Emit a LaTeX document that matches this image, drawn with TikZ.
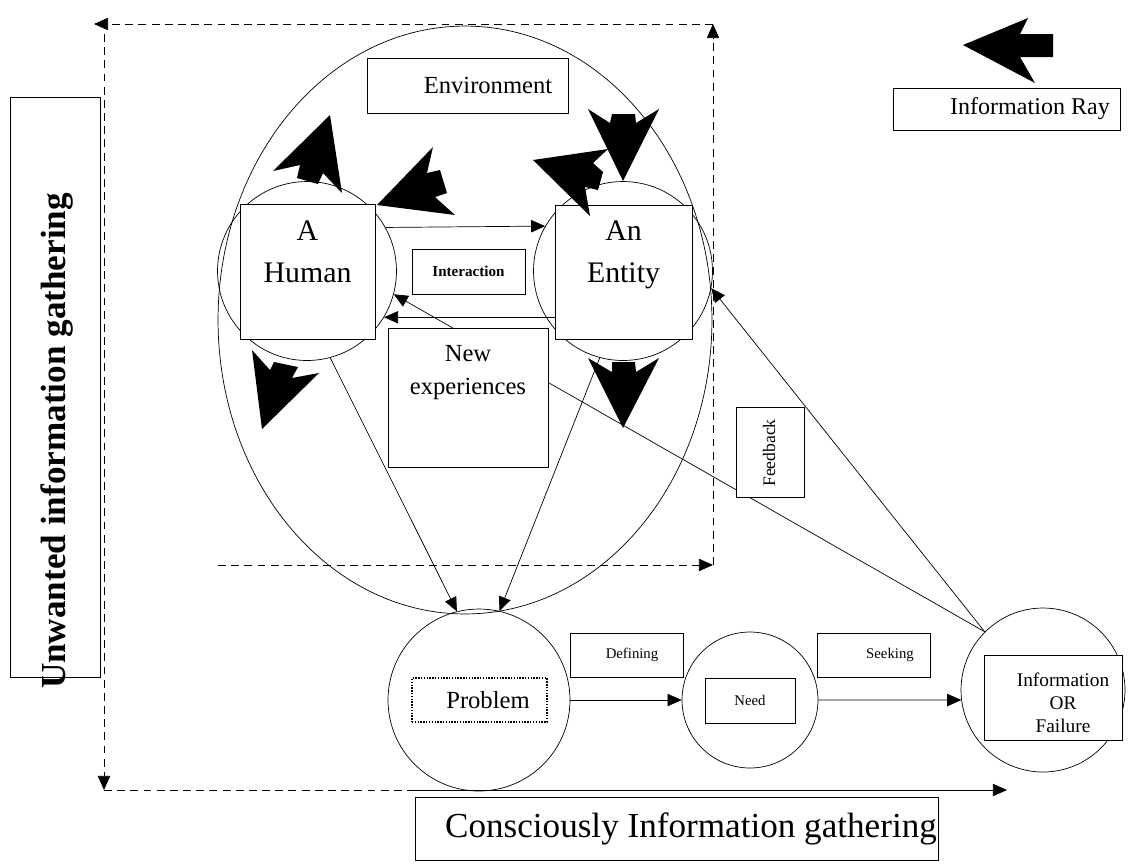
\documentclass[tikz,border=0pt]{standalone}
\usepackage{fontspec}
\setmainfont{Liberation Serif}
\usetikzlibrary{arrows.meta,shapes.geometric}
\pgfdeclarelayer{back}\pgfdeclarelayer{mid}\pgfdeclarelayer{front}
\pgfsetlayers{back,mid,main,front}
\begin{document}
\begin{tikzpicture}[x=0.02cm,y=-0.02cm,line width=1pt,
  box/.style={draw,fill=white,inner sep=0pt},
  circ/.style={draw,circle,inner sep=0pt},
  arr/.style={-{Triangle[length=8pt,width=7pt]}},
  dsh/.style={dash pattern=on 4.5pt off 3pt},
  ray/.style={fill=black},
  fa/.style={font=\fontsize{14}{17}\selectfont},
  fb/.style={font=\fontsize{17}{24}\selectfont},
  fc/.style={font=\fontsize{8.4}{10}\selectfont}]
\useasboundingbox (0,0) rectangle (1136,867);

\begin{pgfonlayer}{back}
\node[draw,ellipse,inner sep=0pt,minimum width=9.88cm,minimum height=11.76cm] (env) at (465,320) {};
\node[circ,minimum size=3.58cm] (hc) at (307,271) {};
\node[circ,minimum size=3.58cm] (ec) at (623,271) {};
\node[circ,minimum size=3.64cm] (pc) at (479,700) {};
\node[circ,minimum size=2.72cm] (nc) at (750,700) {};
\node[circ,minimum size=3.28cm] (ic) at (1043,690) {};
\end{pgfonlayer}

% boxes
\node[box,fa,minimum width=4.02cm,minimum height=1.1cm] (envl) at (467.5,85.5) {\hspace*{0.82cm}Environment};
\node[box,minimum width=2.7cm,minimum height=2.7cm] (hbox) at (307.5,271.5) {};
\node[fb,align=center,inner sep=0pt] (htxt) at (307.5,252) {A\\Human};
\node[box,minimum width=2.74cm,minimum height=2.68cm] (ebox) at (623.5,272) {};
\node[fb,align=center,inner sep=0pt] (etxt) at (623.5,255) {An\\Entity};
\node[box,minimum width=2.26cm,minimum height=0.9cm,font=\fontsize{8.6}{10}\selectfont\bfseries] (ix) at (468.5,271.5) {Interaction};
\node[box,minimum width=3.2cm,minimum height=2.78cm] (nexp) at (468,397.5) {};
\node[font=\fontsize{14}{18.8}\selectfont,align=center,inner sep=0pt] (ntxt) at (468,373) {New\\experiences};
\node[draw,line width=0.8pt,dash pattern=on 0.8pt off 0.8pt,inner sep=0pt,fa,minimum width=2.7cm,minimum height=0.88cm] (pbox) at (479.5,700) {\hspace*{0.34cm}Problem};
\node[box,fc,minimum width=1.8cm,minimum height=0.9cm] (nbox) at (750,700.5) {Need};
\node[box,fc,minimum width=2.26cm,minimum height=0.88cm] (defb) at (626.5,655) {\hspace*{0.22cm}Defining};
\node[box,fc,minimum width=2.26cm,minimum height=0.88cm] (seekb) at (873.5,655) {\hspace*{0.66cm}Seeking};
\node[box,minimum width=2.76cm,minimum height=1.7cm] (ibox) at (1053,697.5) {};
\node[font=\fontsize{11}{13.1}\selectfont,align=center,inner sep=0pt] (itxt) at (1063,703) {Information\\OR\\Failure};
\node[box,minimum width=1.36cm,minimum height=1.8cm] (fbk) at (770,452) {};
\node[rotate=90,font=\fontsize{10}{12}\selectfont,inner sep=0pt] (fbt) at (769,453) {Feedback};
\node[box,minimum width=4.54cm,minimum height=0.84cm,font=\fontsize{13.7}{16}\selectfont] (leg) at (1006.5,109) {\hspace*{0.94cm}Information Ray};
\node[box,minimum width=1.8cm,minimum height=11.6cm] (unw) at (55,387) {};
\node[rotate=90,font=\fontsize{20}{24}\selectfont\bfseries,inner sep=0pt] (unwt) at (57,441) {Unwanted information gathering};
\node[box,minimum width=10.46cm,minimum height=1.26cm,font=\fontsize{20}{24}\selectfont] (cons) at (676.5,828.5) {\hspace*{0.58cm}Consciously Information gathering};

% dashed loop coordinates
\coordinate (d1) at (218,565);
\coordinate (d2) at (713,565);
\coordinate (d3) at (713,24);
\coordinate (d4) at (94,24);
\coordinate (d5) at (104,34);
\coordinate (d6) at (104,790);
\coordinate (d7) at (415,790);
\coordinate (d8) at (1007,790);

\begin{pgfonlayer}{mid}
\draw[dsh,arr] (d1) -- (d2);
\draw[dsh,arr] (d2) -- (d3);
\draw[dsh,arr] (d3) -- (d4);
\draw[dsh,arr] (d5) -- (d6);
\draw[dsh] (d6) -- (d7);
\draw[arr] (d7) -- (d8);

\draw[arr] (hc.29.6) -- (ec.150.4);
\draw[arr] (ebox.west |- hc.-31.1) -- (hc.-31.1);
\draw[arr] (ic.135.5) -- (hc.-15.6);
\draw[arr] (ic.135.5) -- (ec.-11);
\draw[arr] (hc.-75) -- (pc.104.5);
\draw[arr] (ec.-105) -- (pc.77);
\draw[arr] (pc.east) -- (nc.west);
\draw[arr] (nc.east) -- (ic.187);
\end{pgfonlayer}

\begin{pgfonlayer}{front}
% information rays
\fill[ray] (330,115) -- (273,171) -- (300,165) -- (297,178) -- (318,184) -- (323,173) -- (342,193) -- cycle;
\fill[ray] (377,205) -- (433,147) -- (427,173) -- (440,170) -- (447,193) -- (435,197) -- (455,215) -- cycle;
\fill[ray] (623,181) -- (588,109) -- (610,123) -- (612,114) -- (635,114) -- (636,123) -- (659,109) -- cycle;
\fill[ray] (533,160) -- (608,149) -- (593,163) -- (603,172) -- (598,190) -- (585,187) -- (590,216) -- cycle;
\fill[ray] (262,429) -- (252,350) -- (270,370) -- (274,362) -- (298,367) -- (292,378) -- (319,373) -- cycle;
\fill[ray] (623,428) -- (588,358) -- (612,372) -- (612,362) -- (635,362) -- (636,372) -- (659,358) -- cycle;
\fill[ray] (963,45) -- (1028,18) -- (1020,34) -- (1053,34) -- (1053,57) -- (1020,57) -- (1035,83) -- cycle;
\end{pgfonlayer}
\end{tikzpicture}
\end{document}
